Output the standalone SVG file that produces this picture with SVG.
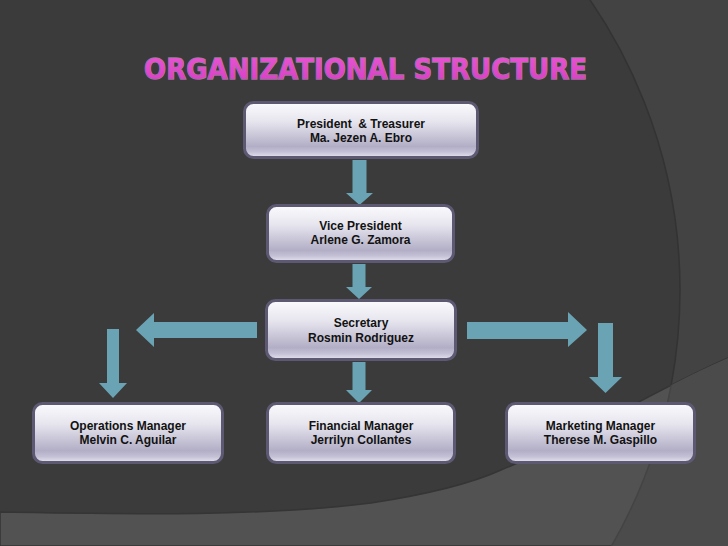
<svg xmlns="http://www.w3.org/2000/svg" width="728" height="546" viewBox="0 0 728 546">
<defs>
<linearGradient id="boxg" x1="0" y1="0" x2="0" y2="1">
<stop offset="0" stop-color="#fbfbfd"/>
<stop offset="0.35" stop-color="#e6e5ee"/>
<stop offset="0.8" stop-color="#b2aec6"/>
<stop offset="0.9" stop-color="#c4c1d6"/>
<stop offset="1" stop-color="#e6e5ef"/>
</linearGradient>
<linearGradient id="titleg" x1="0" y1="0" x2="0" y2="1">
<stop offset="0" stop-color="#e657d2"/>
<stop offset="1" stop-color="#d83cc4"/>
</linearGradient>
<clipPath id="lowclip">
<path d="M0,512 C120,514 260,517 371,503 C430,494 470,484 501,470 C580,438 650,392 728,358 L728,546 L0,546 Z"/>
</clipPath>
<style>
.box{fill:url(#boxg);stroke:#5d5973;stroke-width:3}
.lbl{font-family:"Liberation Sans",Arial,sans-serif;font-weight:bold;font-size:12px;fill:#121212;text-anchor:middle;white-space:pre}
.arr{fill:#6aa4b4}
.title{font-family:"DejaVu Sans","Liberation Sans",sans-serif;font-weight:bold;font-size:28px;fill:url(#titleg);stroke:#8e7f8e;stroke-width:1.3;paint-order:stroke}
</style>
</defs>
<!-- background -->
<rect x="0" y="0" width="728" height="546" fill="#434343"/>
<circle cx="168" cy="290" r="512" fill="#3b3b3b" stroke="#333333" stroke-width="1.5"/>
<path d="M0,512 C120,514 260,517 371,503 C430,494 470,484 501,470 C580,438 650,392 728,358 L728,546 L0,546 Z" fill="#525252" stroke="#353535" stroke-width="1.5"/>
<g clip-path="url(#lowclip)">
<path d="M0,0 H728 V546 H0 Z M680,290 A512,512 0 1 0 -344,290 A512,512 0 1 0 680,290 Z" fill="#4b4b4b" fill-rule="evenodd"/>
<circle cx="168" cy="290" r="512" fill="none" stroke="#444444" stroke-width="1.5"/>
</g>
<text class="title" x="365.5" y="79" text-anchor="middle" textLength="443" lengthAdjust="spacingAndGlyphs">ORGANIZATIONAL STRUCTURE</text>
<g id="connectors">
<polygon class="arr" points="352.5,160 366.5,160 366.5,193 373,193 359.5,205 346,193 352.5,193"/>
<polygon class="arr" points="352.5,264 365.5,264 365.5,287 372,287 359,299 346,287 352.5,287"/>
<polygon class="arr" points="352.5,362 365.5,362 365.5,390 372,390 359,403 346,390 352.5,390"/>
<polygon class="arr" points="257,322 257,338 154,338 154,347 136,330 154,313 154,322"/>
<polygon class="arr" points="467,322 467,339 568,339 568,347 587,330 568,312 568,322"/>
<polygon class="arr" points="107,329 119,329 119,383 127,383 113,398 99,383 107,383"/>
<polygon class="arr" points="598,323 613,323 613,377 622,377 605.5,393 589,377 598,377"/>
</g>
<g id="president">
<rect class="box" x="244.5" y="102.5" width="233" height="55" rx="9"/>
<text class="lbl" x="361" y="127.5" xml:space="preserve">President  &amp; Treasurer</text>
<text class="lbl" x="361" y="141.5">Ma. Jezen A. Ebro</text>
</g>
<g id="vice-president">
<rect class="box" x="267.5" y="205.5" width="186" height="56" rx="9"/>
<text class="lbl" x="360.5" y="229.5">Vice President</text>
<text class="lbl" x="360.5" y="244">Arlene G. Zamora</text>
</g>
<g id="secretary">
<rect class="box" x="266.5" y="300.5" width="189" height="59" rx="9"/>
<text class="lbl" x="361" y="327">Secretary</text>
<text class="lbl" x="361" y="341.5">Rosmin Rodriguez</text>
</g>
<g id="operations-manager">
<rect class="box" x="33.5" y="403.5" width="189" height="59" rx="9"/>
<text class="lbl" x="128" y="429.5">Operations Manager</text>
<text class="lbl" x="128" y="444">Melvin C. Aguilar</text>
</g>
<g id="financial-manager">
<rect class="box" x="267.5" y="403.5" width="187" height="59" rx="9"/>
<text class="lbl" x="361" y="429.5">Financial Manager</text>
<text class="lbl" x="361" y="444">Jerrilyn Collantes</text>
</g>
<g id="marketing-manager">
<rect class="box" x="506.5" y="403.5" width="188" height="59" rx="9"/>
<text class="lbl" x="600.5" y="429.5">Marketing Manager</text>
<text class="lbl" x="600.5" y="444">Therese M. Gaspillo</text>
</g>
</svg>
